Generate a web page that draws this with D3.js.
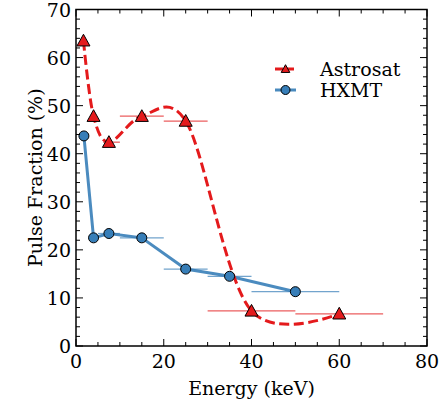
<!DOCTYPE html>
<html><head><meta charset="utf-8">
<script src="https://cdn.jsdelivr.net/npm/d3@7"></script>
<style>body{margin:0;background:#fff}svg{display:block}</style>
</head><body>
<script>
// ---- data ----
const astroE    = [1.7, 4.0, 7.5, 15, 25, 40, 60];
const astroPF   = [63.5, 47.8, 42.4, 47.8, 46.8, 7.3, 6.7];
const astroElo  = [1.5, 3.6, 6.2, 10, 20, 30, 50];
const astroEhi  = [2.0, 4.4, 10, 20, 30, 50, 70];
const hxmtE     = [1.8, 4.0, 7.5, 15, 25, 35, 50];
const hxmtPF    = [43.7, 22.5, 23.4, 22.5, 16.0, 14.5, 11.3];
const hxmtElo   = [1.5, 3.6, 5, 10, 20, 30, 40];
const hxmtEhi   = [2.2, 4.4, 10, 20, 30, 40, 60];
const xTicks = [0, 20, 40, 60, 80];
const yTicks = [0, 10, 20, 30, 40, 50, 60, 70];
const seriesNames = ["Astrosat", "HXMT"];

const W = 445, H = 402;
const m = {l: 76, r: 18, t: 9.5, b: 56};
const red = "#e41a1c", blue = "#377eb8";
const font = "'DejaVu Serif', serif";

const svg = d3.select("body").append("svg").attr("width", W).attr("height", H);
const x = d3.scaleLinear().domain([0, 80]).range([m.l, W - m.r]);
const y = d3.scaleLinear().domain([0, 70]).range([H - m.b, m.t]);
const x0 = m.l, x1 = W - m.r, y0 = H - m.b, y1 = m.t;

const g = svg.append("g");

// error bars
g.selectAll(".ebA").data(astroE).join("line")
  .attr("x1", (d, i) => x(astroElo[i])).attr("x2", (d, i) => x(astroEhi[i]))
  .attr("y1", (d, i) => y(astroPF[i])).attr("y2", (d, i) => y(astroPF[i]))
  .attr("stroke", red).attr("stroke-width", 1.3).attr("opacity", 0.7);
g.selectAll(".ebH").data(hxmtE).join("line")
  .attr("x1", (d, i) => x(hxmtElo[i])).attr("x2", (d, i) => x(hxmtEhi[i]))
  .attr("y1", (d, i) => y(hxmtPF[i])).attr("y2", (d, i) => y(hxmtPF[i]))
  .attr("stroke", blue).attr("stroke-width", 1.3).attr("opacity", 0.7);

// HXMT line
g.append("path").datum(hxmtE.map((e, i) => [e, hxmtPF[i]]))
  .attr("d", d3.line().x(d => x(d[0])).y(d => y(d[1])))
  .attr("fill", "none").attr("stroke", blue).attr("stroke-width", 3).attr("opacity", 0.9);

// Astrosat smooth dashed curve
g.append("path").datum(astroE.map((e, i) => [e, astroPF[i]]))
  .attr("d", d3.line().curve(d3.curveCatmullRom.alpha(0.1)).x(d => x(d[0])).y(d => y(d[1])))
  .attr("fill", "none").attr("stroke", red).attr("stroke-width", 3).attr("stroke-dasharray", "10,4.5");

// markers
function triPath(s) { return `M0,${-s}L${s},${s * 0.8}L${-s},${s * 0.8}Z`; }
g.selectAll(".mH").data(hxmtE).join("circle")
  .attr("cx", d => x(d)).attr("cy", (d, i) => y(hxmtPF[i])).attr("r", 5)
  .attr("fill", blue).attr("stroke", "#000").attr("stroke-width", 1);
g.selectAll(".mA").data(astroE).join("path")
  .attr("transform", (d, i) => `translate(${x(d)},${y(astroPF[i])})`)
  .attr("d", triPath(6.5))
  .attr("fill", red).attr("stroke", "#000").attr("stroke-width", 1);

// frame
svg.append("rect").attr("x", x0).attr("y", y1).attr("width", x1 - x0).attr("height", y0 - y1)
  .attr("fill", "none").attr("stroke", "#000").attr("stroke-width", 1.5);

// ticks (inward, all sides)
const tk = svg.append("g").attr("stroke", "#000").attr("stroke-width", 1);
d3.range(0, 81, 5).forEach(v => {
  const len = (v % 20 === 0) ? 7 : 4;
  tk.append("line").attr("x1", x(v)).attr("x2", x(v)).attr("y1", y0).attr("y2", y0 - len);
  tk.append("line").attr("x1", x(v)).attr("x2", x(v)).attr("y1", y1).attr("y2", y1 + len);
});
d3.range(0, 71, 2).forEach(v => {
  const len = (v % 10 === 0) ? 7 : 4;
  tk.append("line").attr("y1", y(v)).attr("y2", y(v)).attr("x1", x0).attr("x2", x0 + len);
  tk.append("line").attr("y1", y(v)).attr("y2", y(v)).attr("x1", x1).attr("x2", x1 - len);
});

// tick labels
svg.selectAll(".xl").data(xTicks).join("text")
  .attr("x", d => x(d)).attr("y", y0 + 22).attr("text-anchor", "middle")
  .attr("font-family", font).attr("font-size", 19).text(d => d);
svg.selectAll(".yl").data(yTicks).join("text")
  .attr("x", x0 - 5).attr("y", d => y(d) + 7).attr("text-anchor", "end")
  .attr("font-family", font).attr("font-size", 19).text(d => d);

// axis labels
svg.append("text").attr("x", (x0 + x1) / 2).attr("y", 395).attr("text-anchor", "middle")
  .attr("font-family", font).attr("font-size", 19).text("Energy (keV)");
svg.append("text").attr("transform", `translate(42,${(y0 + y1) / 2}) rotate(-90)`)
  .attr("text-anchor", "middle").attr("font-family", font).attr("font-size", 19).text("Pulse Fraction (%)");

// legend
const lg = svg.append("g");
const legY = [69, 90];
lg.append("line").attr("x1", 275).attr("x2", 296).attr("y1", legY[0]).attr("y2", legY[0])
  .attr("stroke", red).attr("stroke-width", 3).attr("stroke-dasharray", "8,3");
lg.append("path").attr("transform", `translate(285.5,${legY[0]})`).attr("d", triPath(4.3))
  .attr("fill", red).attr("stroke", "#000").attr("stroke-width", 1);
lg.append("line").attr("x1", 275).attr("x2", 296).attr("y1", legY[1]).attr("y2", legY[1])
  .attr("stroke", blue).attr("stroke-width", 3).attr("opacity", 0.9);
lg.append("circle").attr("cx", 285.5).attr("cy", legY[1]).attr("r", 4.5)
  .attr("fill", blue).attr("stroke", "#000").attr("stroke-width", 1);
lg.selectAll(".lt").data(seriesNames).join("text")
  .attr("x", 320).attr("y", (d, i) => legY[i] + 7).attr("font-family", font).attr("font-size", 19).text(d => d);
</script>
</body></html>
